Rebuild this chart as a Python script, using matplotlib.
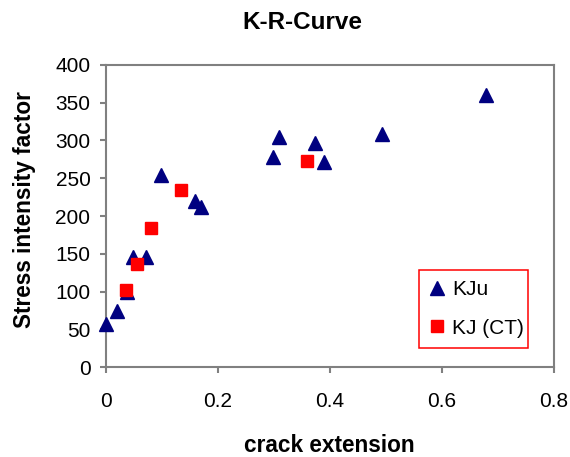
"""K-R-Curve scatter chart."""

import matplotlib

matplotlib.use("Agg")

import matplotlib.pyplot as plt


# KJu measurements (triangles)
kju_extension = [0.0, 0.021, 0.038, 0.048, 0.072, 0.099, 0.159, 0.171,
                 0.298, 0.309, 0.373, 0.390, 0.493, 0.679]
kju_stress = [57, 75, 100, 146, 146, 254, 220, 212,
              278, 304, 297, 272, 309, 360]

# KJ (CT) measurements (squares)
kj_ct_extension = [0.036, 0.056, 0.081, 0.134, 0.359]
kj_ct_stress = [102, 136, 184, 234, 273]

x_ticks = [0, 0.2, 0.4, 0.6, 0.8]
y_ticks = [0, 50, 100, 150, 200, 250, 300, 350, 400]


def main() -> None:
    plt.rcParams["font.family"] = ["Liberation Sans", "DejaVu Sans"]

    figure = plt.figure(figsize=(5.7, 4.57), dpi=100)
    axis = figure.add_axes([0.1854, 0.1963, 0.786, 0.6621])

    axis.plot(
        kju_extension,
        kju_stress,
        linestyle="none",
        marker="^",
        markersize=9.5,
        color="#000080",
        label="KJu",
        clip_on=False,
        zorder=3,
    )
    axis.plot(
        kj_ct_extension,
        kj_ct_stress,
        linestyle="none",
        marker="s",
        markersize=8.5,
        color="#FF0000",
        label="KJ (CT)",
        clip_on=False,
        zorder=4,
    )

    axis.set_xlim(0, 0.8)
    axis.set_ylim(0, 400)
    axis.set_xticks(x_ticks, [f"{t:g}" for t in x_ticks])
    axis.set_yticks(y_ticks)

    for spine in axis.spines.values():
        spine.set_color("#808080")
        spine.set_linewidth(1.5)

    axis.tick_params(
        direction="out",
        length=4.5,
        width=1.5,
        color="#808080",
        labelsize=15,
    )
    axis.tick_params(axis="x", pad=13)
    axis.tick_params(axis="y", pad=6.5)

    axis.set_title("K-R-Curve", fontsize=17.5, fontweight="bold",
                   pad=25.5, x=0.438)
    axis.set_xlabel("crack extension", fontsize=16.3, fontweight="bold",
                    labelpad=17)
    axis.set_ylabel("Stress intensity factor", fontsize=16.3,
                    fontweight="bold")
    axis.yaxis.set_label_coords(-0.155, 0.52)

    legend = axis.legend(
        loc="upper left",
        bbox_to_anchor=(0.700, 0.0628, 0.2433, 0.2587),
        mode="expand",
        fontsize=15,
        fancybox=False,
        framealpha=1,
        borderpad=0.5,
        handlelength=0.74,
        handletextpad=0.35,
        labelspacing=0.92,
        borderaxespad=0,
    )
    legend.get_frame().set_edgecolor("#FF0000")
    legend.get_frame().set_linewidth(1.1)

    figure.savefig("out.png", dpi=100)
    plt.close(figure)


if __name__ == "__main__":
    main()
